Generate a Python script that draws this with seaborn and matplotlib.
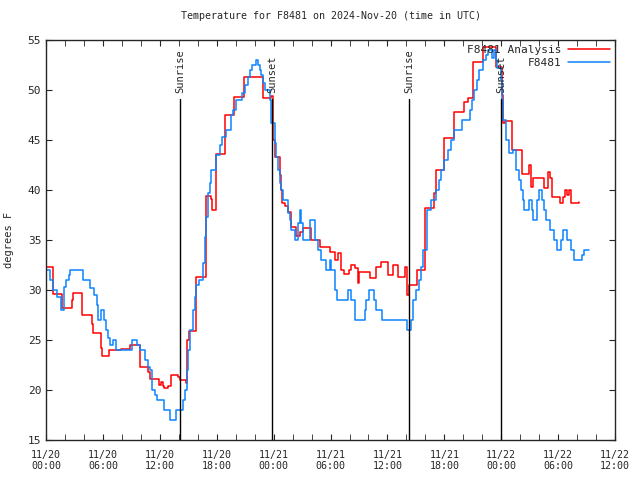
import matplotlib
matplotlib.use("Agg")
import matplotlib.pyplot as plt
import matplotlib.dates as mdates
import seaborn as sns
import pandas as pd
import numpy as np

# hours after 2024-11-20 00:00 UTC, values in degrees F
analysis_hours = [0.0, 0.70, 1.65, 2.77, 2.88, 3.82, 4.81, 4.91, 5.75, 5.93, 6.63, 7.89, 8.84,
                  9.89, 10.77, 10.95, 11.89, 12.07, 12.28, 12.46, 12.88, 13.16, 13.93, 14.10,
                  14.80, 14.91, 15.05, 15.79, 15.86, 16.84, 16.91, 17.37, 17.51, 17.89, 18.91,
                  19.82, 20.84, 22.88, 23.75, 23.93, 24.17, 24.63, 24.80, 24.91, 25.16, 25.51,
                  25.79, 26.32, 26.74, 27.09, 27.89, 28.84, 29.89, 30.42, 30.77, 31.12, 31.47,
                  31.93, 32.18, 32.53, 32.88, 32.98, 34.11, 34.81, 35.33, 36.04, 36.56, 37.09,
                  37.89, 38.04, 38.32, 39.09, 40.00, 40.95, 41.12, 42.00, 42.98, 44.04, 44.46,
                  44.98, 46.04, 47.44, 48.07, 48.14, 48.42, 49.09, 50.14, 50.88, 51.12, 51.30,
                  52.46, 52.98, 53.12, 53.33, 54.18, 54.46, 54.70, 54.98, 55.16, 55.33, 56.04,
                  56.21]
analysis_temp = [32.3, 29.6, 28.2, 29.0, 29.7, 27.5, 26.6, 25.7, 24.2, 23.4, 24.0, 24.1, 24.5,
                 22.3, 21.8, 21.1, 20.5, 20.8, 20.4, 20.2, 20.4, 21.5, 21.3, 21.0,
                 20.7, 25.0, 25.9, 28.7, 31.3, 35.0, 39.4, 39.1, 38.0, 43.6, 47.5,
                 49.3, 51.3, 49.2, 49.4, 45.0, 43.3, 41.5, 40.0, 38.7, 38.4, 37.8,
                 36.3, 35.4, 35.8, 36.2, 35.0, 34.3, 33.8, 33.0, 33.7, 32.0, 31.6,
                 32.0, 32.5, 32.2, 30.7, 31.8, 31.2, 32.3, 32.8, 31.5, 32.5, 31.3,
                 32.3, 29.5, 30.5, 32.0, 38.2, 39.7, 42.0, 45.2, 47.8, 48.8, 49.2,
                 52.8, 54.3, 52.3, 49.5, 46.7, 46.9, 44.0, 41.6, 42.5, 40.3, 41.2,
                 40.2, 41.8, 41.2, 39.3, 38.7, 39.3, 40.0, 39.5, 40.0, 38.7, 38.7,
                 38.8]

obs_hours = [0.0, 0.42, 0.77, 1.12, 1.54, 1.93, 2.11, 2.46, 2.53, 3.86, 4.63, 5.05, 5.33, 5.51,
             5.79, 6.11, 6.32, 6.56, 6.74, 7.02, 7.37, 9.02, 9.54, 9.89, 10.46, 10.77, 10.95,
             11.12, 11.47, 11.65, 12.46, 13.05, 13.75, 14.46, 14.63, 14.81, 14.98, 15.16, 15.51,
             15.68, 15.86, 16.14, 16.56, 16.74, 16.91, 17.09, 17.26, 17.44, 17.96, 18.32, 18.60,
             19.02, 19.54, 19.72, 20.07, 20.70, 20.95, 21.30, 21.47, 21.75, 22.10, 22.35, 22.53,
             22.70, 22.88, 23.05, 23.58, 23.75, 24.10, 24.28, 24.46, 24.63, 24.81, 24.98, 25.51,
             25.68, 25.86, 26.21, 26.56, 26.74, 26.91, 27.09, 27.79, 28.32, 28.67, 29.02, 29.54,
             29.89, 30.07, 30.42, 30.67, 31.82, 32.18, 32.53, 33.58, 33.75, 34.04, 34.53, 34.74,
             35.44, 38.04, 38.49, 38.67, 39.02, 39.37, 39.54, 39.79, 40.14, 40.60, 41.12, 41.47,
             41.65, 42.00, 42.35, 42.70, 43.05, 43.86, 44.70, 44.91, 45.16, 45.40, 45.61, 46.04,
             46.39, 46.56, 47.02, 47.26, 47.44, 47.54, 47.96, 48.07, 48.21, 48.49, 48.84, 49.26,
             49.54, 49.89, 50.07, 50.25, 50.42, 50.95, 51.23, 51.37, 51.72, 51.93, 52.28, 52.53,
             52.70, 53.16, 53.58, 53.93, 54.28, 54.46, 54.98, 55.33, 55.68, 56.49, 56.74, 57.26]
obs_temp = [32.0, 31.0, 30.0, 29.3, 28.0, 30.3, 31.0, 31.5, 32.0, 31.0, 30.2, 29.5, 28.5, 27.0,
            28.0, 27.0, 26.0, 25.2, 24.5, 25.0, 24.0, 25.0, 24.5, 24.0, 23.0, 22.3, 22.0,
            20.0, 19.5, 19.0, 18.0, 17.0, 18.0, 19.0, 20.0, 22.0, 24.0, 26.0, 28.0,
            29.3, 30.5, 31.0, 32.7, 35.3, 37.3, 39.7, 40.7, 42.0, 43.5, 44.5, 45.3,
            46.0, 47.5, 48.0, 49.0, 49.7, 50.5, 51.3, 52.0, 52.5, 53.0, 52.5, 52.0,
            51.5, 50.7, 50.0, 49.0, 46.7, 44.7, 43.3, 42.0, 40.7, 40.0, 39.0, 37.7,
            37.0, 36.0, 35.0, 36.7, 38.0, 36.7, 35.0, 37.0, 35.0, 34.0, 33.0, 32.0,
            33.0, 32.0, 30.0, 29.0, 30.0, 29.0, 27.0, 28.0, 29.0, 30.0, 29.0, 28.0,
            27.0, 26.0, 27.0, 29.0, 30.0, 31.0, 32.3, 34.0, 38.0, 39.0, 40.0, 41.0,
            42.0, 43.0, 44.0, 45.0, 46.0, 47.0, 48.0, 49.0, 50.0, 51.0, 52.0, 53.0,
            53.5, 54.0, 53.2, 54.0, 53.0, 52.2, 51.0, 49.0, 47.0, 45.0, 43.7, 44.0,
            42.0, 41.0, 40.0, 39.0, 38.0, 39.0, 38.0, 37.0, 39.0, 40.0, 39.0, 38.0,
            37.0, 36.0, 35.0, 34.0, 35.0, 36.0, 35.0, 34.0, 33.0, 33.5, 34.0, 34.0]

sun_hours = [14.1, 23.8, 38.3, 48.0]
sun_labels = ["Sunrise", "Sunset", "Sunrise", "Sunset"]

start = pd.Timestamp("2024-11-20 00:00")
analysis = pd.DataFrame({"time": start + pd.to_timedelta(analysis_hours, unit="h"),
                         "temp": analysis_temp, "series": "F8481 Analysis"})
obs = pd.DataFrame({"time": start + pd.to_timedelta(obs_hours, unit="h"),
                    "temp": obs_temp, "series": "F8481"})
df = pd.concat([analysis, obs], ignore_index=True)

sns.set_style("ticks")
plt.rcParams["font.family"] = ["DejaVu Sans Mono", "DejaVu Sans"]
plt.rcParams["font.size"] = 7.2

fig = plt.figure(figsize=(6.4, 4.8), dpi=100)
ax = fig.add_axes([0.072, 0.083, 0.889, 0.834])

sns.lineplot(data=df, x="time", y="temp", hue="series",
             palette={"F8481 Analysis": "#ff0000", "F8481": "#0a84ff"},
             drawstyle="steps-post", linewidth=1.1, ax=ax, estimator=None, sort=False)

for h, lab in zip(sun_hours, sun_labels):
    t = start + pd.Timedelta(hours=h)
    ax.plot([t, t], [15, 49.1], color="black", linewidth=1)
    ax.text(t, 49.7, lab, rotation=90, ha="center", va="bottom", fontsize=7.5)

ax.set_xlim(start, start + pd.Timedelta(hours=60))
ax.set_ylim(15, 55)
ax.set_yticks(np.arange(15, 56, 5))
ax.xaxis.set_major_locator(mdates.HourLocator(byhour=[0, 6, 12, 18]))
ax.xaxis.set_minor_locator(mdates.HourLocator(byhour=range(0, 24, 2)))
ax.xaxis.set_major_formatter(mdates.DateFormatter("%m/%d\n%H:%M"))
ax.tick_params(which="both", direction="in", top=True, right=True, length=4)
ax.tick_params(axis="x", pad=7)
ax.tick_params(axis="y", labelsize=8)
for s in ax.spines.values():
    s.set_linewidth(1)
    s.set_visible(True)

ax.set_xlabel("")
ax.set_ylabel("degrees F", fontsize=7.5, labelpad=10)
ax.set_title("Temperature for F8481 on 2024-Nov-20 (time in UTC)", fontsize=7.2, pad=15)

leg = ax.legend(loc="upper right", frameon=False, markerfirst=False, handlelength=3.8,
                borderaxespad=0.05, labelspacing=0.25, handletextpad=0.6, fontsize=8)
for t in leg.get_texts():
    t.set_ha("right")

fig.savefig("out.png", dpi=100)
